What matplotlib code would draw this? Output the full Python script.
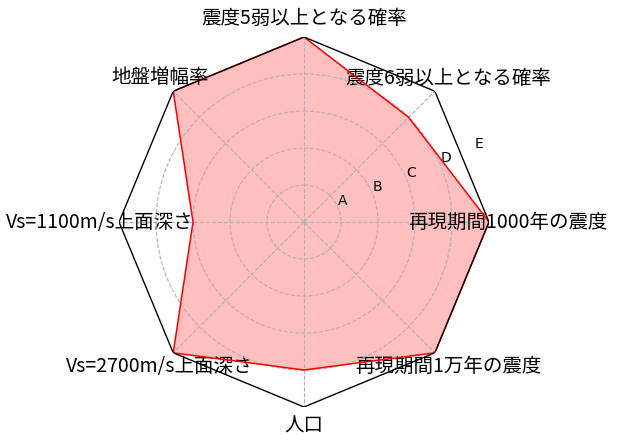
import numpy as np
from matplotlib import pyplot as plt

# radar chart of seismic hazard ranks
labels = ["震度5弱以上となる確率", "震度6弱以上となる確率", "再現期間1000年の震度",
          "再現期間1万年の震度", "人口", "Vs=2700m/s上面深さ",
          "Vs=1100m/s上面深さ", "地盤増幅率"]
values = [5, 4, 5, 5, 4, 5, 3, 5]
rank_levels = [1, 2, 3, 4, 5]
rank_names = ["A", "B", "C", "D", "E"]

n = len(labels)
theta = np.linspace(0, 2 * np.pi, n, endpoint=False)

fig = plt.figure(figsize=(6.18, 4.46), dpi=100)
ax = fig.add_axes([0.1926, 0.0874, 0.5987, 0.8296], projection="polar")
ax.set_theta_zero_location("N")
ax.set_theta_direction(-1)

th_closed = np.append(theta, theta[0])
val_closed = np.append(values, values[0])
ax.plot(th_closed, val_closed, color="r", linewidth=1.1, zorder=2)
ax.fill(th_closed, val_closed, color="r", alpha=0.25, linewidth=0, zorder=1)

# polygon frame instead of the circular spine
ax.spines["polar"].set_visible(False)
ax.plot(th_closed, [rank_levels[-1]] * (n + 1), color="k", linewidth=1, zorder=3)

ax.set_ylim(0, rank_levels[-1])
ax.set_yticks(rank_levels)
ax.set_yticklabels(rank_names, fontsize=10)
ax.set_rlabel_position(67.5)
ax.set_xticks(theta)
ax.set_xticklabels(labels, family=["Noto Sans CJK JP", "DejaVu Sans"], fontsize=14)
ax.tick_params(axis="x", pad=3)

ax.grid(True, linestyle="--", color="#b0b0b0", linewidth=0.8)
ax.yaxis.get_gridlines()[-1].set_visible(False)

fig.savefig("out.png", dpi=100)
